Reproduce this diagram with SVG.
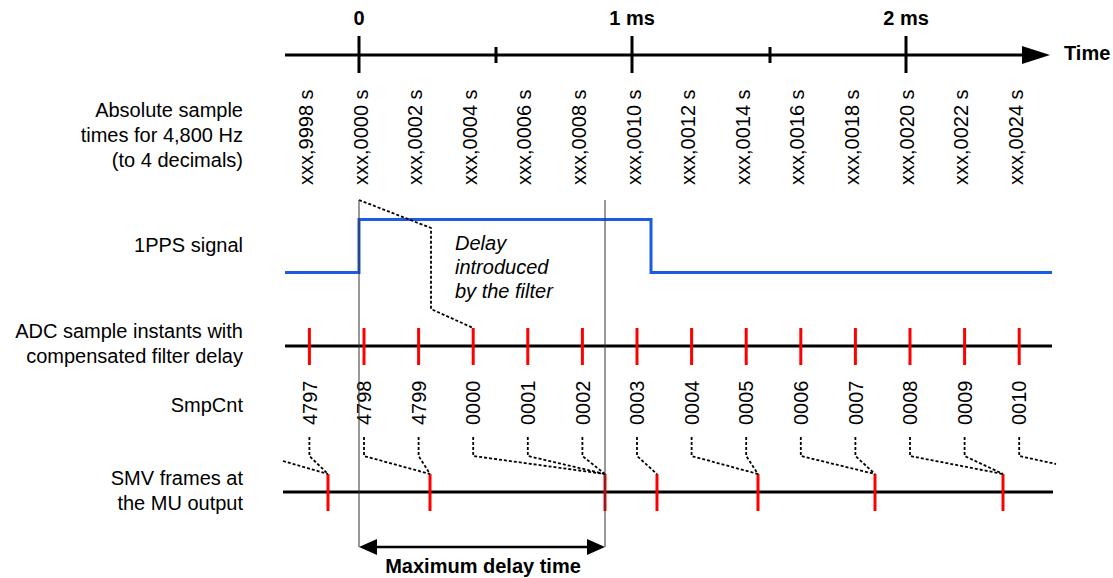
<svg xmlns="http://www.w3.org/2000/svg" width="1113" height="578" viewBox="0 0 1113 578">
<style>
text{font-family:"Liberation Sans",Arial,sans-serif;font-size:20px;fill:#000}
.b{font-weight:bold}
.lbl{text-anchor:end}
.it{font-style:italic}
.ax{stroke:#000;stroke-width:3;fill:none}
.thin{stroke:#333;stroke-width:1;fill:none}
.red{stroke:#ff0000;stroke-width:3;fill:none}
.dot{stroke:#000;stroke-width:1.8;stroke-dasharray:3,2;fill:none}
.pps{stroke:#1a5ce6;stroke-width:3;fill:none}
</style>
<rect width="1113" height="578" fill="#fff"/>

<g id="time-axis">
  <line class="ax" x1="285" y1="55" x2="1025" y2="55"/>
  <polygon points="1022,46 1050,55 1022,64" fill="#000"/>
  <line class="ax" x1="359" y1="36" x2="359" y2="73"/>
  <line class="ax" x1="632" y1="36" x2="632" y2="73"/>
  <line class="ax" x1="906" y1="36" x2="906" y2="73"/>
  <line class="ax" x1="496" y1="47" x2="496" y2="63"/>
  <line class="ax" x1="770" y1="47" x2="770" y2="63"/>
  <text class="b" x="359" y="25" text-anchor="middle">0</text>
  <text class="b" x="632" y="25" text-anchor="middle">1 ms</text>
  <text class="b" x="906" y="25" text-anchor="middle">2 ms</text>
  <text class="b" x="1064" y="60">Time</text>
</g>

<g id="row-labels">
  <text class="lbl" x="243" y="117">Absolute sample</text>
  <text class="lbl" x="243" y="142">times for 4,800 Hz</text>
  <text class="lbl" x="243" y="167">(to 4 decimals)</text>
  <text class="lbl" x="243" y="252">1PPS signal</text>
  <text class="lbl" x="243" y="338">ADC sample instants with</text>
  <text class="lbl" x="243" y="363">compensated filter delay</text>
  <text class="lbl" x="243" y="412">SmpCnt</text>
  <text class="lbl" x="243" y="485">SMV frames at</text>
  <text class="lbl" x="243" y="510">the MU output</text>
</g>

<g id="sample-times">
  <text transform="translate(313,185) rotate(-90)">xxx,9998 s</text>
  <text transform="translate(367.5,185) rotate(-90)">xxx,0000 s</text>
  <text transform="translate(422.1,185) rotate(-90)">xxx,0002 s</text>
  <text transform="translate(476.7,185) rotate(-90)">xxx,0004 s</text>
  <text transform="translate(531.3,185) rotate(-90)">xxx,0006 s</text>
  <text transform="translate(585.9,185) rotate(-90)">xxx,0008 s</text>
  <text transform="translate(640.5,185) rotate(-90)">xxx,0010 s</text>
  <text transform="translate(695.1,185) rotate(-90)">xxx,0012 s</text>
  <text transform="translate(749.7,185) rotate(-90)">xxx,0014 s</text>
  <text transform="translate(804.3,185) rotate(-90)">xxx,0016 s</text>
  <text transform="translate(858.9,185) rotate(-90)">xxx,0018 s</text>
  <text transform="translate(913.5,185) rotate(-90)">xxx,0020 s</text>
  <text transform="translate(968.1,185) rotate(-90)">xxx,0022 s</text>
  <text transform="translate(1022.7,185) rotate(-90)">xxx,0024 s</text>
</g>

<g id="pps-signal">
  <polyline class="pps" points="285,272.5 359,272.5 359,219.5 651,219.5 651,272.5 1052,272.5"/>
</g>

<g id="delay-note">
  <text class="it" x="455" y="250">Delay</text>
  <text class="it" x="455" y="274">introduced</text>
  <text class="it" x="455" y="298">by the filter</text>
</g>

<g id="adc-samples">
  <line class="ax" x1="285" y1="346" x2="1052" y2="346"/>
  <g class="red">
    <line x1="309.4" y1="328" x2="309.4" y2="365"/>
    <line x1="364" y1="328" x2="364" y2="365"/>
    <line x1="418.6" y1="328" x2="418.6" y2="365"/>
    <line x1="473.2" y1="328" x2="473.2" y2="365"/>
    <line x1="527.8" y1="328" x2="527.8" y2="365"/>
    <line x1="582.4" y1="328" x2="582.4" y2="365"/>
    <line x1="637" y1="328" x2="637" y2="365"/>
    <line x1="691.6" y1="328" x2="691.6" y2="365"/>
    <line x1="746.2" y1="328" x2="746.2" y2="365"/>
    <line x1="800.8" y1="328" x2="800.8" y2="365"/>
    <line x1="855.4" y1="328" x2="855.4" y2="365"/>
    <line x1="910" y1="328" x2="910" y2="365"/>
    <line x1="964.6" y1="328" x2="964.6" y2="365"/>
    <line x1="1019.2" y1="328" x2="1019.2" y2="365"/>
  </g>
</g>

<g id="smpcnt">
  <text transform="translate(316.6,425) rotate(-90)">4797</text>
  <text transform="translate(371.2,425) rotate(-90)">4798</text>
  <text transform="translate(425.8,425) rotate(-90)">4799</text>
  <text transform="translate(480.4,425) rotate(-90)">0000</text>
  <text transform="translate(535,425) rotate(-90)">0001</text>
  <text transform="translate(589.6,425) rotate(-90)">0002</text>
  <text transform="translate(644.2,425) rotate(-90)">0003</text>
  <text transform="translate(698.8,425) rotate(-90)">0004</text>
  <text transform="translate(753.4,425) rotate(-90)">0005</text>
  <text transform="translate(808,425) rotate(-90)">0006</text>
  <text transform="translate(862.6,425) rotate(-90)">0007</text>
  <text transform="translate(917.2,425) rotate(-90)">0008</text>
  <text transform="translate(971.8,425) rotate(-90)">0009</text>
  <text transform="translate(1026.4,425) rotate(-90)">0010</text>
</g>

<g id="smv-frames">
  <line class="ax" x1="283" y1="492" x2="1053" y2="492"/>
  <g class="red">
    <line x1="328" y1="474" x2="328" y2="511"/>
    <line x1="430" y1="474" x2="430" y2="511"/>
    <line x1="605" y1="474" x2="605" y2="511"/>
    <line x1="657" y1="474" x2="657" y2="511"/>
    <line x1="758" y1="474" x2="758" y2="511"/>
    <line x1="875" y1="474" x2="875" y2="511"/>
    <line x1="1003" y1="474" x2="1003" y2="511"/>
  </g>
</g>

<g id="connectors">
  <polyline class="dot" points="359,200 431,228 431,309 473.2,328"/>
  <line class="dot" x1="283" y1="461" x2="328" y2="474"/>
  <polyline class="dot" points="309.4,437 309.4,456 328,474"/>
  <polyline class="dot" points="364,437 364,456 430,474"/>
  <polyline class="dot" points="418.6,437 418.6,456 430,474"/>
  <polyline class="dot" points="473.2,437 473.2,456 605,474"/>
  <polyline class="dot" points="527.8,437 527.8,456 605,474"/>
  <polyline class="dot" points="582.4,437 582.4,456 605,474"/>
  <polyline class="dot" points="637,437 637,456 657,474"/>
  <polyline class="dot" points="691.6,437 691.6,456 758,474"/>
  <polyline class="dot" points="746.2,437 746.2,456 758,474"/>
  <polyline class="dot" points="800.8,437 800.8,456 875,474"/>
  <polyline class="dot" points="855.4,437 855.4,456 875,474"/>
  <polyline class="dot" points="910,437 910,456 1003,474"/>
  <polyline class="dot" points="964.6,437 964.6,456 1003,474"/>
  <polyline class="dot" points="1019.2,437 1019.2,456 1056,464"/>
</g>

<g id="max-delay">
  <line class="thin" x1="359" y1="200" x2="359" y2="547"/>
  <line class="thin" x1="605" y1="200" x2="605" y2="547"/>
  <line x1="372" y1="547" x2="592" y2="547" stroke="#000" stroke-width="2.5"/>
  <polygon points="359,547 377,539 377,555" fill="#000"/>
  <polygon points="605,547 587,539 587,555" fill="#000"/>
  <text class="b" x="483" y="573" text-anchor="middle">Maximum delay time</text>
</g>
</svg>
